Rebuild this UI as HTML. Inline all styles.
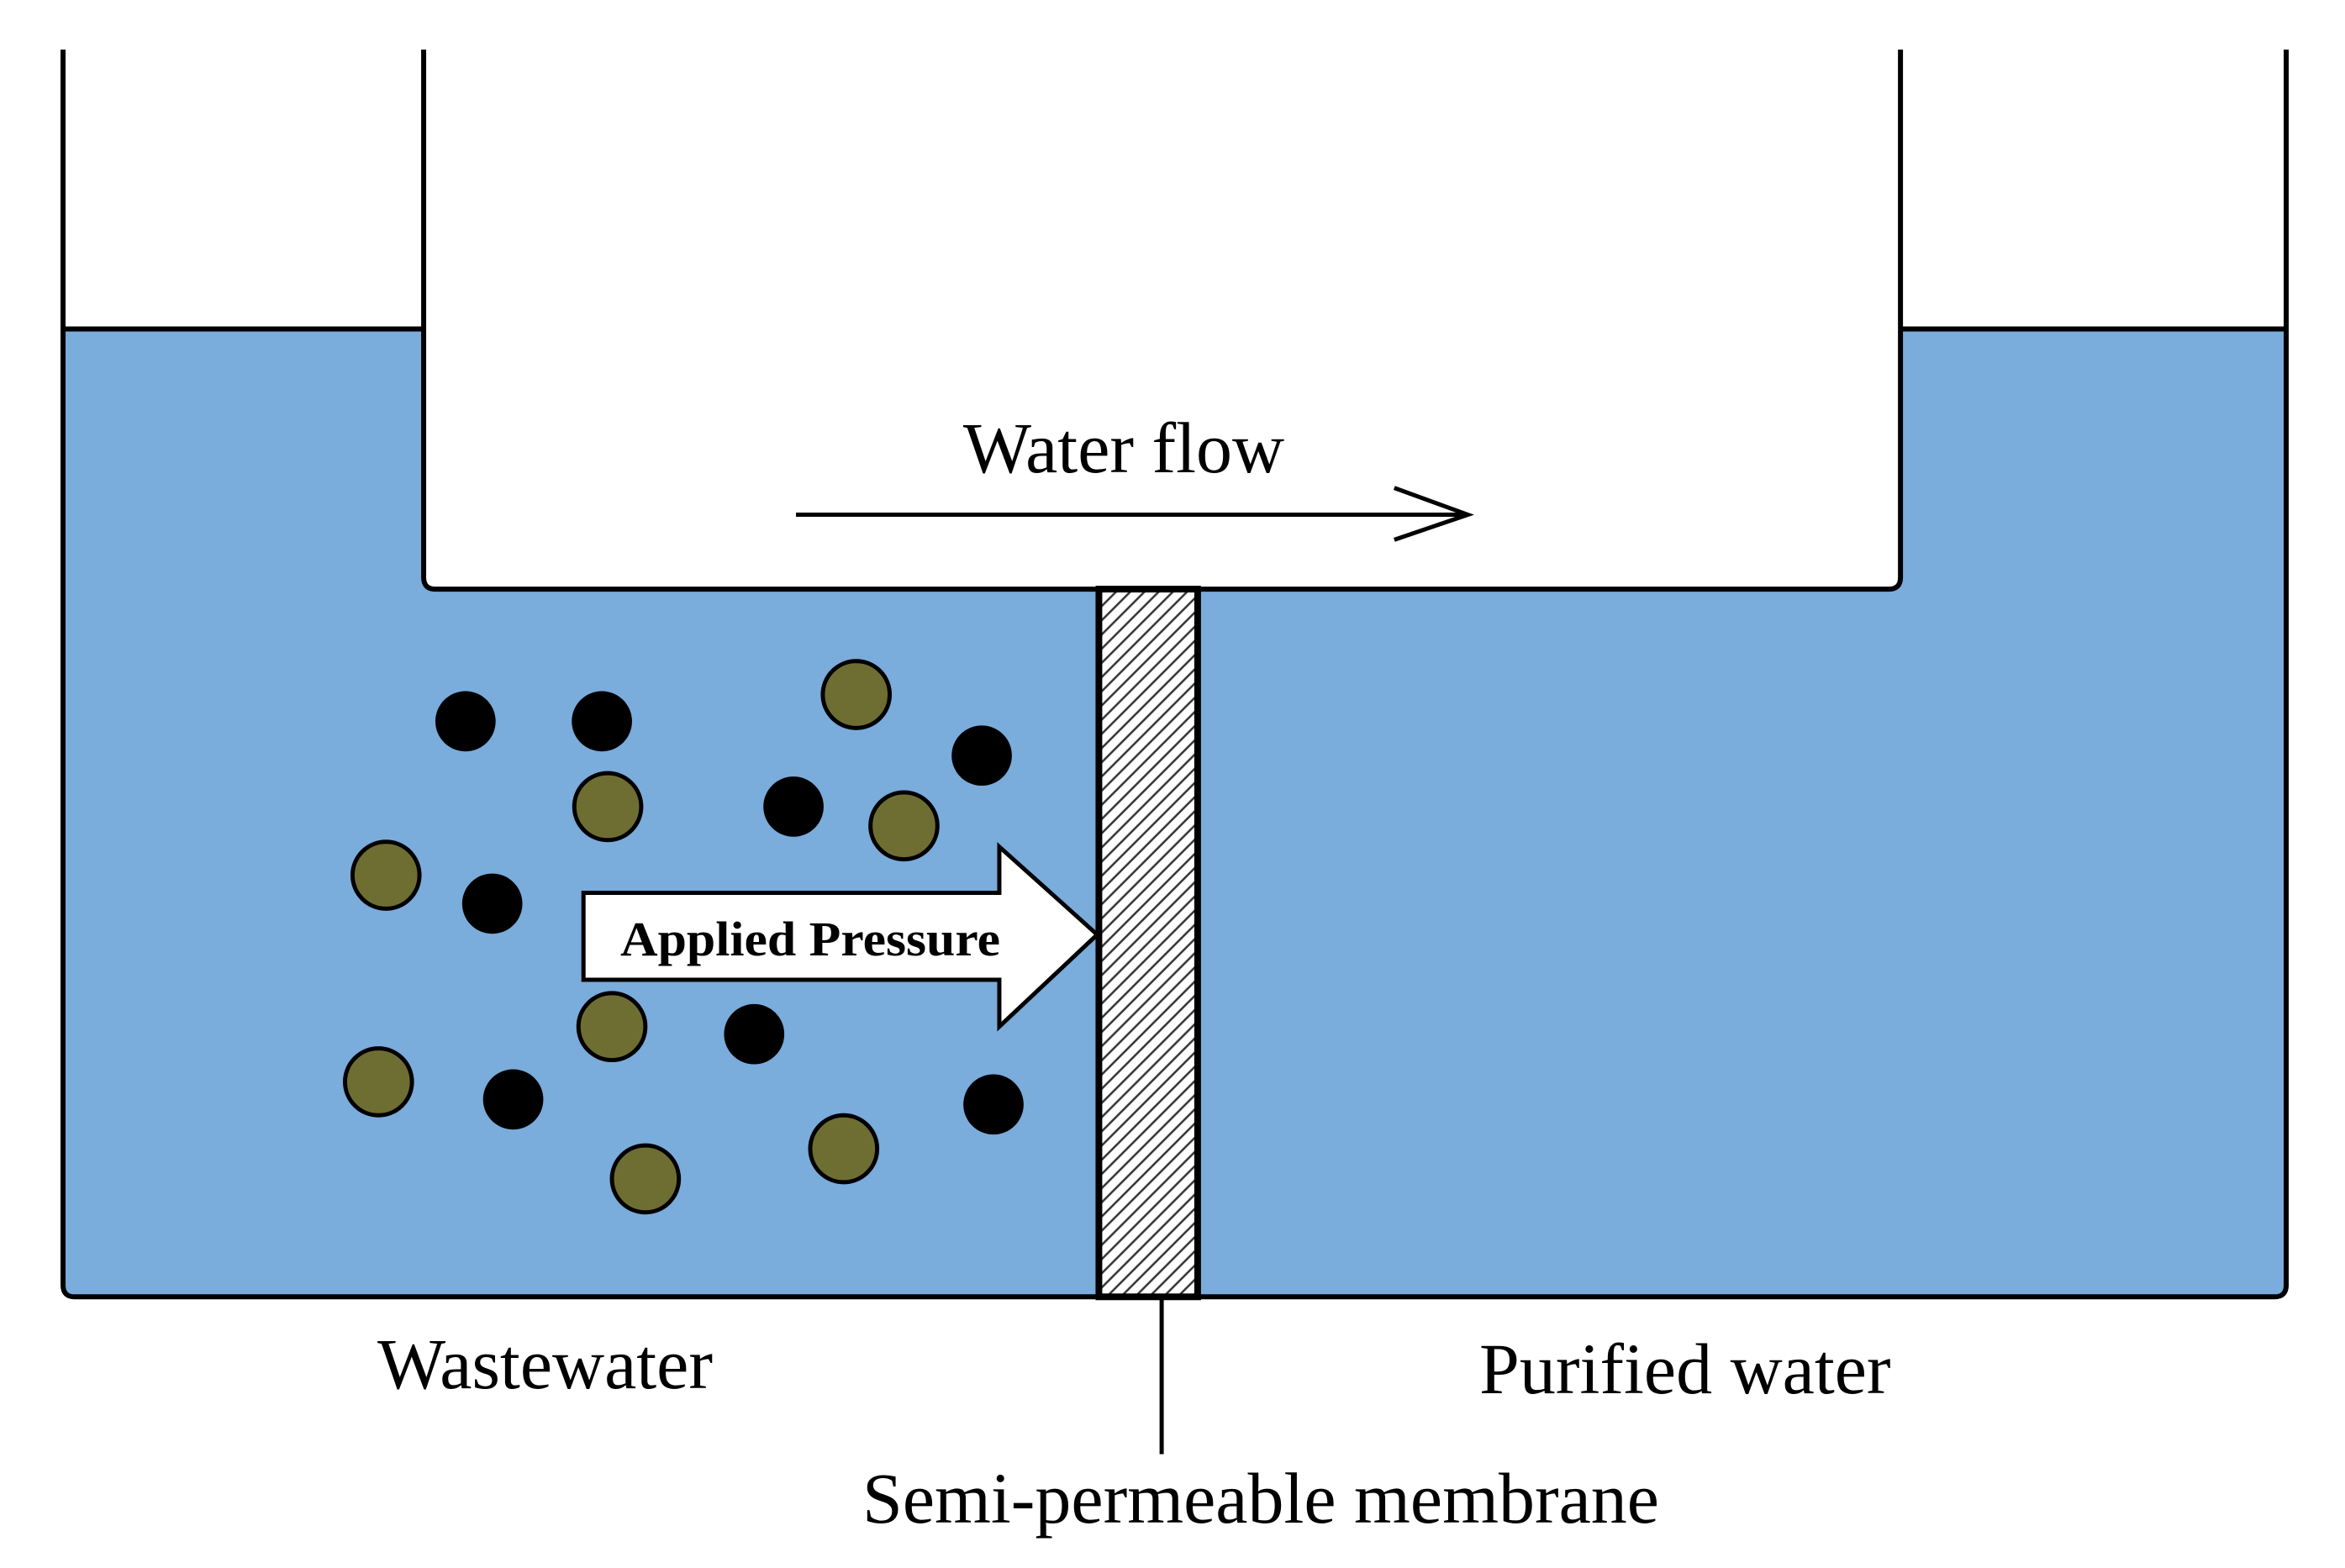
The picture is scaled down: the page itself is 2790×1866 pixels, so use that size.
<!DOCTYPE html>
<html><head><style>html,body{margin:0;padding:0;background:#fff}svg{display:block}</style></head>
<body>
<svg width="2790" height="1866" viewBox="0 0 2790 1866" xmlns="http://www.w3.org/2000/svg">
<defs>
<pattern id="h" patternUnits="userSpaceOnUse" width="12" height="12" patternTransform="rotate(-45)">
<rect width="12" height="12" fill="#fff"/>
<line x1="0" y1="3" x2="12" y2="3" stroke="#333" stroke-width="2.5"/>
</pattern>
</defs>
<g transform="translate(75,59) scale(0.9955) translate(-75,-59)">
<path d="M75 393 H506 V690 Q506 704 520 704 H2257 Q2271 704 2271 690 V393 H2732 V1536 Q2732 1550 2718 1550 H89 Q75 1550 75 1536 Z" fill="#7aacdc"/>
<path d="M75 59 V1536 Q75 1550 89 1550 H2718 Q2732 1550 2732 1536 V59" fill="none" stroke="#000" stroke-width="6"/>
<path d="M506 59 V690 Q506 704 520 704 H2257 Q2271 704 2271 690 V59" fill="none" stroke="#000" stroke-width="6"/>
<line x1="75" y1="393" x2="506" y2="393" stroke="#000" stroke-width="6"/>
<line x1="2271" y1="393" x2="2732" y2="393" stroke="#000" stroke-width="6"/>
<rect x="1313" y="704" width="118" height="846" fill="url(#h)" stroke="#000" stroke-width="8"/>
<line x1="1388" y1="1550" x2="1388" y2="1738" stroke="#000" stroke-width="5"/>
<line x1="951" y1="615" x2="1754" y2="615" stroke="#000" stroke-width="5"/>
<polyline points="1666,583 1754,615 1666,645" fill="none" stroke="#000" stroke-width="5"/>
<polygon points="697,1067 1194,1067 1194,1012 1311,1117 1194,1227 1194,1171 697,1171" fill="#fff" stroke="#000" stroke-width="5"/>
<g fill="#6e6e32" stroke="#000" stroke-width="5">
<circle cx="1023" cy="830" r="40"/><circle cx="726" cy="964" r="40"/><circle cx="1080" cy="987" r="40"/>
<circle cx="461" cy="1046" r="40"/><circle cx="731" cy="1227" r="40"/><circle cx="452" cy="1293" r="40"/>
<circle cx="1008" cy="1373" r="40"/><circle cx="771" cy="1409" r="40"/>
</g>
<g fill="#000">
<circle cx="556" cy="862" r="36"/><circle cx="719" cy="862" r="36"/><circle cx="1173" cy="903" r="36"/>
<circle cx="948" cy="964" r="36"/><circle cx="588" cy="1080" r="36"/><circle cx="901" cy="1236" r="36"/>
<circle cx="613" cy="1314" r="36"/><circle cx="1187" cy="1320" r="36"/>
</g>
</g>
<text x="1337" y="562" font-family="Liberation Serif, serif" font-size="86" text-anchor="middle">Water flow</text>
<text x="738" y="1137" font-family="Liberation Serif, serif" font-size="58" font-weight="bold" textLength="452" lengthAdjust="spacingAndGlyphs">Applied Pressure</text>
<g font-family="Liberation Serif, serif" font-size="86">
<text x="449" y="1652">Wastewater</text>
<text x="1760" y="1658">Purified water</text>
<text x="1026" y="1812">Semi-permeable membrane</text>
</g>
</svg>
</body></html>
